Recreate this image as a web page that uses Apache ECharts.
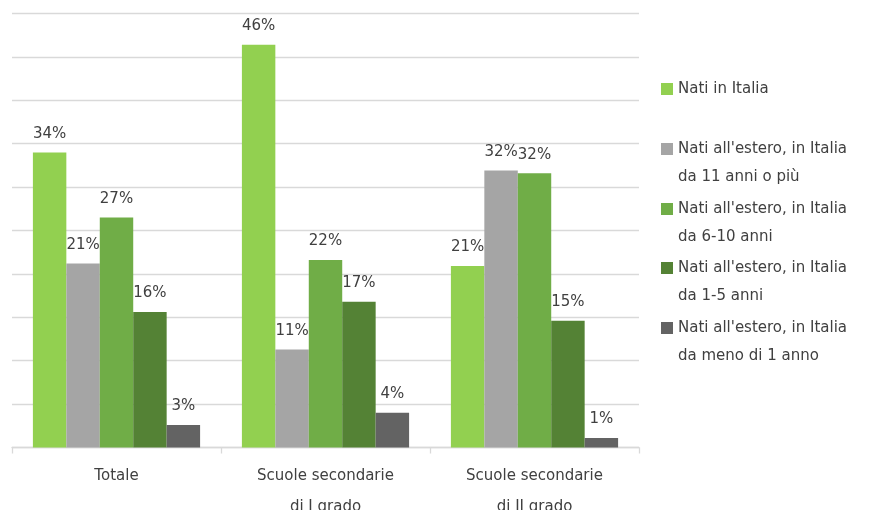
<!DOCTYPE html>
<html>
<head>
<meta charset="utf-8">
<script src="https://cdn.jsdelivr.net/npm/echarts@6/dist/echarts.min.js"></script>
<style>
html,body{margin:0;padding:0;background:#fff;}
#chart{width:875px;height:510px;}
</style>
</head>
<body>
<div id="chart"></div>
<script>
var categories = ['Totale', 'Scuole secondarie\ndi I grado', 'Scuole secondarie\ndi II grado'];
var seriesNames = [
  'Nati in Italia',
  "Nati all'estero, in Italia\nda 11 anni o più",
  "Nati all'estero, in Italia\nda 6-10 anni",
  "Nati all'estero, in Italia\nda 1-5 anni",
  "Nati all'estero, in Italia\nda meno di 1 anno"
];
var natiItalia = [34.0, 46.4, 20.9];
var estero11 = [21.2, 11.3, 31.9];
var estero6_10 = [26.5, 21.6, 31.6];
var estero1_5 = [15.6, 16.8, 14.6];
var esteroMeno1 = [2.6, 4.0, 1.1];
var yTicks = [0, 5, 10, 15, 20, 25, 30, 35, 40, 45, 50];

var colors = ['#92D050', '#A5A5A5', '#70AD47', '#548235', '#636363'];
var dataSets = [natiItalia, estero11, estero6_10, estero1_5, esteroMeno1];
var FONT = '"DejaVu Sans", sans-serif';
var TXT = '#404040';

var series = dataSets.map(function (d, i) {
  return {
    name: seriesNames[i],
    type: 'bar',
    data: d,
    barGap: '0%',
    barCategoryGap: '20%',
    itemStyle: { color: colors[i] },
    label: {
      show: true,
      position: 'top',
      distance: 11,
      color: TXT,
      fontFamily: FONT,
      fontSize: 15,
      formatter: function (p) { return Math.round(p.value) + '%'; }
    }
  };
});

// legend: one component per item to reproduce Excel spacing
var legendLine1 = [89, 149, 209, 268, 328];
var squareTop = 'path://M0,0L12,0L12,12L0,12ZM0,40';
var legends = seriesNames.map(function (n, i) {
  var twoLine = n.indexOf('\n') >= 0;
  return {
    data: [n],
    orient: 'vertical',
    left: 661,
    top: legendLine1[i] - 14,
    padding: 0,
    itemWidth: 12,
    itemHeight: twoLine ? 40 : 12,
    itemGap: 0,
    icon: twoLine ? squareTop : 'rect',
    selectedMode: false,
    textStyle: {
      color: TXT,
      fontFamily: FONT,
      fontSize: 15,
      lineHeight: 28
    }
  };
});

var chart = echarts.init(document.getElementById('chart'));
chart.setOption({
  animation: false,
  backgroundColor: '#fff',
  grid: { left: 12, right: 236, top: 13.5, bottom: 62.5, containLabel: false, outerBoundsMode: 'none' },
  legend: legends,
  xAxis: {
    type: 'category',
    data: categories,
    axisLine: { show: true, lineStyle: { color: '#D9D9D9', width: 1.3 } },
    axisTick: { show: true, length: 6, lineStyle: { color: '#D9D9D9', width: 1.3 } },
    axisLabel: { color: TXT, fontFamily: FONT, fontSize: 15, lineHeight: 31, margin: 13 }
  },
  yAxis: {
    type: 'value',
    min: yTicks[0],
    max: yTicks[yTicks.length - 1],
    interval: yTicks[1] - yTicks[0],
    axisLabel: { show: false },
    axisLine: { show: false },
    axisTick: { show: false },
    splitLine: { show: true, lineStyle: { color: '#D9D9D9', width: 1.3 } }
  },
  series: series
});
</script>
</body>
</html>
